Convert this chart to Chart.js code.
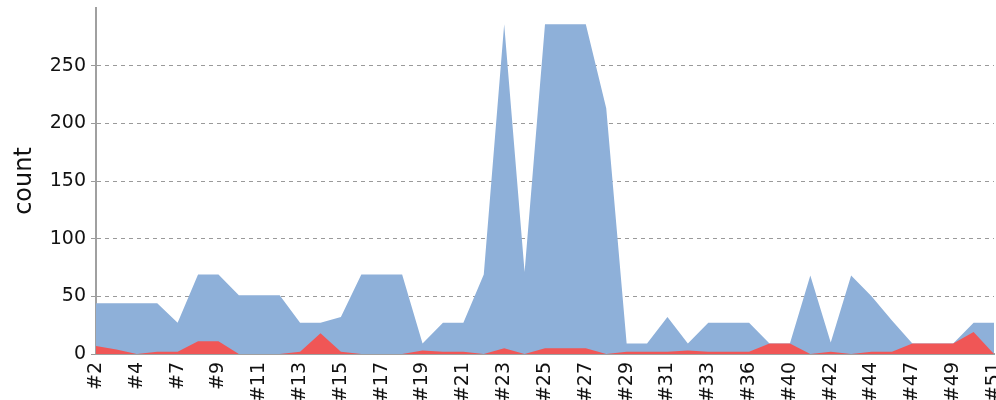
<!DOCTYPE html>
<html lang="en">
<head>
    <meta charset="UTF-8">
    <title>count</title>
    <script src="https://cdn.jsdelivr.net/npm/chart.js"></script>
    <style>
        html, body { margin: 0; padding: 0; background: #fff; overflow: hidden; }
        canvas { display: block; }
    </style>
</head>
<body>
    <canvas id="areaChart" width="996" height="400"></canvas>

<script>
    // categories (every other one is labelled on the axis)
    const categories = ["#2", "#3", "#4", "#5", "#7", "#8", "#9", "#10", "#11", "#12",
        "#13", "#14", "#15", "#16", "#17", "#18", "#19", "#20", "#21", "#22",
        "#23", "#24", "#25", "#26", "#27", "#28", "#29", "#30", "#31", "#32",
        "#33", "#34", "#36", "#38", "#40", "#41", "#42", "#43", "#44", "#45",
        "#47", "#48", "#49", "#50", "#51"];

    // blue area (total)
    const totalCounts = [44, 44, 44, 44, 27, 69, 69, 51, 51, 51,
        27, 27, 32, 69, 69, 69, 9, 27, 27, 69,
        286, 71, 286, 286, 286, 213, 9, 9, 32, 9,
        27, 27, 27, 9, 9, 68, 10, 68, 50, 29,
        9, 9, 9, 27, 27];

    // red area
    const redCounts = [7, 4, 0, 2, 2, 11, 11, 0, 0, 0,
        2, 18, 2, 0, 0, 0, 3, 2, 2, 0,
        5, 0, 5, 5, 5, 0, 2, 2, 2, 3,
        2, 2, 2, 9, 9, 0, 2, 0, 2, 2,
        9, 9, 9, 19, 0];

    const yTicks = [0, 50, 100, 150, 200, 250];
    const yMax = 300;

    const tickFont = { family: "'DejaVu Sans', sans-serif", size: 19 };
    const titleFont = { family: "'DejaVu Sans', sans-serif", size: 24 };

    document.addEventListener("DOMContentLoaded", function () {
        const ctx = document.getElementById("areaChart").getContext("2d");
        new Chart(ctx, {
            type: "line",
            data: {
                labels: categories,
                datasets: [{
                    label: "red",
                    data: redCounts,
                    fill: "origin",
                    backgroundColor: "#f05656",
                    borderColor: "#f05656",
                    borderWidth: 0,
                    pointRadius: 0,
                    tension: 0,
                    order: 1
                }, {
                    label: "total",
                    data: totalCounts,
                    fill: "origin",
                    backgroundColor: "#8eb0d9",
                    borderColor: "#8eb0d9",
                    borderWidth: 0,
                    pointRadius: 0,
                    tension: 0,
                    order: 2
                }]
            },
            options: {
                responsive: false,
                animation: false,
                devicePixelRatio: 1,
                layout: { padding: { top: 8, right: 2, left: 0, bottom: 0 } },
                plugins: {
                    legend: { display: false },
                    tooltip: { enabled: false }
                },
                scales: {
                    x: {
                        offset: false,
                        grid: { display: false, drawTicks: false },
                        border: { display: true, color: "#a0a0a0", width: 2 },
                        ticks: {
                            autoSkip: false,
                            maxRotation: 90,
                            minRotation: 90,
                            padding: 8,
                            color: "#111",
                            font: tickFont,
                            callback: function (val, i) {
                                return i % 2 === 0 ? categories[i] : "";
                            }
                        },
                        afterFit: function (scale) {
                            // let the last label run off the edge like the original
                            scale.paddingRight = 0;
                            scale.paddingLeft = 0;
                            scale.height = 46;
                        }
                    },
                    y: {
                        min: 0,
                        max: yMax,
                        grid: {
                            color: "#9a9a9a",
                            lineWidth: 1,
                            tickLength: 5,
                            tickBorderDash: [4, 4]
                        },
                        // in v4 border.dash is what dashes the grid lines
                        border: { display: true, color: "#a0a0a0", width: 2, dash: [4, 4] },
                        ticks: {
                            padding: 5,
                            color: "#111",
                            font: tickFont
                        },
                        afterBuildTicks: function (scale) {
                            scale.ticks = yTicks.map(v => ({ value: v }));
                        },
                        afterFit: function (scale) {
                            scale.width = 96;
                            scale.paddingTop = 0;
                        },
                        title: {
                            display: true,
                            text: "count",
                            color: "#111",
                            font: titleFont,
                            padding: { top: 10, bottom: 0 }
                        }
                    }
                }
            }
        });
    });
</script>
</body>
</html>
